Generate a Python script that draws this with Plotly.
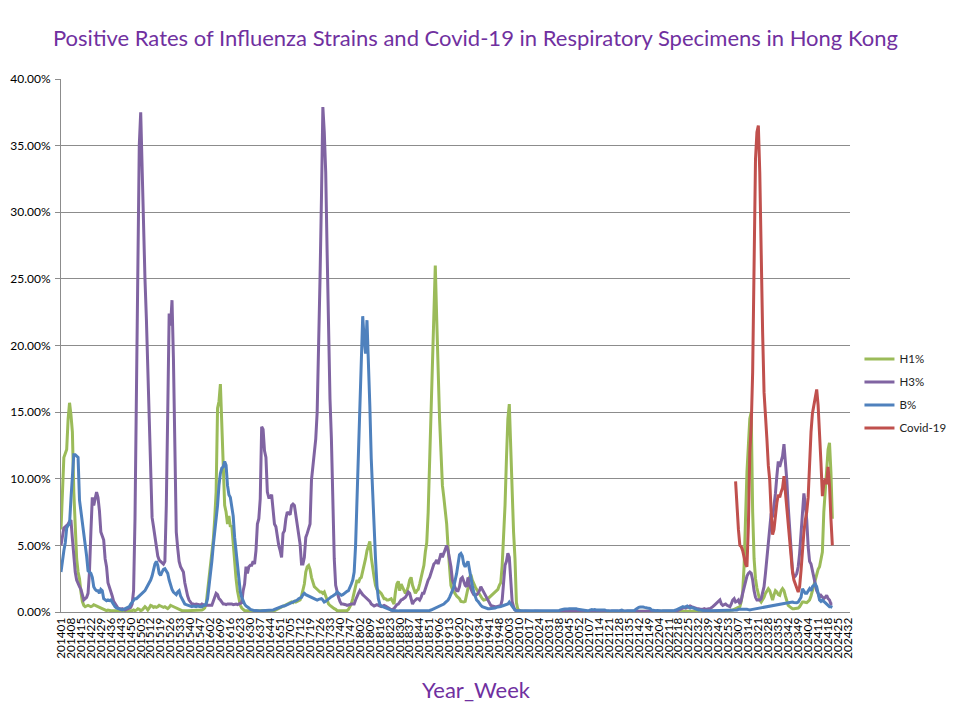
import plotly.graph_objects as go

# ---------------- categories (Year_Week) ----------------
weeks_per_year = {2014: 52, 2015: 52, 2016: 53, 2017: 52, 2018: 52, 2019: 52,
                  2020: 52, 2021: 52, 2022: 53, 2023: 52, 2024: 32}
categories = [f"{y}{w:02d}" for y, n in weeks_per_year.items() for w in range(1, n + 1)]
tick_labels = categories[::7]
tick_mark_every = 13

# ---------------- series values (percent) ----------------
h1 = {
    2014: [6.2, 9.5, 11.6, 11.9, 12.2, 14.5, 15.7, 14.8, 13.5, 9.0,
           6.0, 4.0, 3.0, 2.5, 1.5, 0.8, 0.5, 0.4, 0.45, 0.5,
           0.45, 0.4, 0.45, 0.55, 0.5, 0.45, 0.35, 0.3, 0.25, 0.2,
           0.15, 0.1, 0.1, 0.15, 0.1, 0.1, 0.1, 0.12, 0.1, 0.1,
           0.1, 0.08, 0.1, 0.1, 0.12, 0.1, 0.1, 0.08, 0.1, 0.1,
           0.1, 0.15],
    2015: [0.1, 0.15, 0.25, 0.2, 0.1, 0.15, 0.3, 0.4, 0.3, 0.15,
           0.3, 0.5, 0.45, 0.35, 0.4, 0.35, 0.4, 0.5, 0.45, 0.4,
           0.35, 0.4, 0.3, 0.25, 0.35, 0.5, 0.45, 0.4, 0.35, 0.3,
           0.25, 0.2, 0.1, 0.1, 0.1, 0.12, 0.1, 0.1, 0.1, 0.1,
           0.1, 0.1, 0.12, 0.1, 0.1, 0.1, 0.1, 0.15, 0.2, 0.3,
           0.6, 1.5],
    2016: [2.3, 3.3, 4.5, 5.4, 7.0, 9.0, 15.3, 15.8, 17.1, 14.0,
           9.5, 8.0, 7.5, 6.6, 7.2, 6.4, 6.5, 5.1, 3.6, 2.5,
           1.6, 1.0, 0.5, 0.3, 0.2, 0.1, 0.1, 0.12, 0.1, 0.1,
           0.1, 0.08, 0.1, 0.1, 0.1, 0.12, 0.1, 0.1, 0.1, 0.1,
           0.1, 0.1, 0.12, 0.1, 0.1, 0.1, 0.1, 0.15, 0.2, 0.25,
           0.3, 0.4, 0.45],
    2017: [0.45, 0.5, 0.55, 0.6, 0.7, 0.75, 0.7, 0.8, 0.75, 0.8,
           0.9, 0.9, 1.2, 1.6, 2.1, 3.0, 3.4, 3.5, 3.2, 2.6,
           2.3, 1.9, 1.8, 1.7, 1.6, 1.5, 1.5, 1.4, 1.5, 1.2,
           0.8, 0.6, 0.5, 0.4, 0.3, 0.25, 0.2, 0.1, 0.1, 0.1,
           0.1, 0.1, 0.1, 0.1, 0.1, 0.2, 0.4, 0.6, 1.0, 1.4,
           1.8, 2.4],
    2018: [2.2, 2.5, 2.6, 3.0, 3.6, 4.0, 4.6, 4.9, 5.3, 4.1,
           3.2, 2.6, 2.0, 1.7, 1.6, 1.5, 1.4, 1.2, 1.0, 1.0,
           0.9, 0.9, 0.95, 1.0, 0.8, 0.6, 1.5, 2.1, 2.3, 1.6,
           2.1, 1.9, 1.6, 1.4, 1.6, 1.9, 2.4, 2.6, 2.0, 1.6,
           1.4, 1.6, 1.7, 2.1, 2.6, 3.2, 3.5, 4.5, 5.2, 7.5,
           11.0, 15.0],
    2019: [19.0, 23.0, 26.0, 22.0, 17.5, 14.5, 12.0, 9.5, 8.6, 7.8,
           6.6, 4.8, 3.0, 2.0, 1.7, 1.5, 1.4, 1.2, 1.1, 1.0,
           0.8, 0.75, 0.75, 0.8, 1.2, 1.8, 2.6, 2.8, 2.4, 2.1,
           1.9, 1.7, 1.5, 1.3, 1.1, 1.0, 0.9, 0.9, 0.95, 1.0,
           1.1, 1.2, 1.3, 1.4, 1.5, 1.6, 1.7, 2.0, 2.2, 3.5,
           5.5, 8.0],
    2020: [11.5, 14.5, 15.6, 12.5, 8.5, 6.0, 4.0, 0.7, 0.2, 0.1,
           0.05, 0.05, 0.04, 0.05, 0.03, 0.04, 0.03, 0.03, 0.04, 0.03,
           0.03, 0.02, 0.03, 0.03, 0.02, 0.03, 0.02, 0.02, 0.03, 0.02,
           0.02, 0.03, 0.02, 0.02, 0.02, 0.03, 0.02, 0.02, 0.02, 0.02,
           0.03, 0.02, 0.02, 0.02, 0.02, 0.03, 0.02, 0.02, 0.02, 0.02,
           0.02, 0.02],
    2021: [0.02, 0.02, 0.03, 0.02, 0.02, 0.02, 0.02, 0.03, 0.02, 0.02,
           0.02, 0.02, 0.02, 0.03, 0.02, 0.02, 0.02, 0.02, 0.02, 0.03,
           0.02, 0.02, 0.02, 0.02, 0.02, 0.02, 0.03, 0.02, 0.02, 0.02,
           0.02, 0.02, 0.03, 0.02, 0.02, 0.02, 0.02, 0.02, 0.02, 0.03,
           0.02, 0.02, 0.02, 0.02, 0.03, 0.02, 0.02, 0.02, 0.02, 0.02,
           0.02, 0.02],
    2022: [0.02, 0.02, 0.02, 0.03, 0.02, 0.02, 0.02, 0.02, 0.03, 0.02,
           0.02, 0.02, 0.02, 0.02, 0.03, 0.02, 0.02, 0.02, 0.03, 0.02,
           0.02, 0.02, 0.03, 0.02, 0.02, 0.03, 0.03, 0.02, 0.03, 0.03,
           0.03, 0.04, 0.03, 0.03, 0.04, 0.04, 0.03, 0.04, 0.05, 0.04,
           0.05, 0.05, 0.06, 0.05, 0.06, 0.07, 0.06, 0.07, 0.08, 0.07,
           0.08, 0.09, 0.1],
    2023: [0.1, 0.1, 0.15, 0.2, 0.25, 0.3, 0.3, 0.4, 0.8, 1.5,
           3.5, 7.5, 10.5, 12.5, 14.5, 15.0, 7.5, 4.0, 2.5, 1.8,
           1.3, 0.9, 0.75, 0.9, 1.1, 1.4, 1.6, 1.75, 1.6, 1.3,
           0.9, 1.3, 1.6, 1.5, 1.3, 1.25, 1.6, 1.75, 1.6, 1.2,
           0.8, 0.5, 0.4, 0.3, 0.25, 0.25, 0.25, 0.25, 0.3, 0.4,
           0.6, 0.75],
    2024: [0.75, 0.7, 0.7, 0.8, 0.9, 1.2, 1.6, 2.1, 2.6, 2.9,
           3.2, 3.4, 3.9, 4.5, 7.5, 9.0, 10.5, 12.2, 12.7, 10.5,
           7.0],
}

h3 = {
    2014: [5.0, 5.8, 6.3, 6.4, 6.5, 6.6, 6.8, 6.9, 5.5, 4.0,
           3.0, 2.4, 2.1, 1.9, 1.7, 1.2, 0.9, 1.0, 1.1, 1.4,
           3.0, 6.0, 8.6, 8.0, 8.5, 9.0, 8.6, 7.6, 6.0, 5.6,
           5.4, 4.0, 3.4, 2.2, 1.9, 1.6, 1.2, 0.8, 0.6, 0.4,
           0.3, 0.25, 0.2, 0.25, 0.2, 0.15, 0.2, 0.25, 0.3, 0.35,
           0.6, 1.6],
    2015: [7.0, 17.0, 28.0, 35.0, 37.5, 33.0, 29.0, 25.0, 22.0, 18.0,
           13.0, 9.0, 7.1, 6.4, 5.6, 4.9, 4.2, 3.9, 3.8, 3.7,
           3.6, 3.8, 8.0, 15.0, 22.4, 21.5, 23.4, 19.0, 12.0, 6.0,
           4.8, 3.8, 3.4, 3.2, 3.0, 2.2, 1.6, 1.2, 0.9, 0.7,
           0.6, 0.6, 0.55, 0.6, 0.6, 0.55, 0.5, 0.6, 0.55, 0.5,
           0.5, 0.5],
    2016: [0.5, 0.5, 0.5, 0.8, 1.2, 1.4, 1.3, 1.0, 0.9, 0.7,
           0.6, 0.6, 0.55, 0.6, 0.6, 0.65, 0.6, 0.55, 0.6, 0.6,
           0.55, 0.6, 0.6, 0.7, 1.6, 2.1, 3.4, 2.9, 3.4, 3.5,
           3.5, 3.8, 3.6, 4.6, 6.6, 7.0, 8.5, 13.9, 13.7, 12.1,
           11.6, 9.0, 8.6, 8.6, 8.8, 7.9, 6.6, 6.4, 5.6, 5.0,
           4.6, 4.1, 5.9],
    2017: [6.1, 7.0, 7.5, 7.4, 7.3, 8.0, 8.1, 8.0, 7.3, 6.8,
           6.0, 5.1, 3.6, 3.6, 4.1, 5.6, 5.9, 6.2, 6.6, 9.9,
           11.1, 11.9, 13.0, 15.0, 19.0, 25.0, 31.0, 37.9, 36.0, 33.0,
           27.0, 21.0, 16.0, 13.0, 8.0, 4.0, 2.0, 1.4, 1.1, 0.8,
           0.6, 0.6, 0.6, 0.55, 0.5, 0.55, 0.6, 0.6, 0.6, 0.6,
           0.9, 1.2],
    2018: [1.4, 1.6, 1.4, 1.3, 1.2, 1.1, 1.0, 0.9, 0.8, 0.6,
           0.5, 0.45, 0.5, 0.55, 0.5, 0.45, 0.4, 0.45, 0.5, 0.45,
           0.4, 0.35, 0.25, 0.15, 0.2, 0.25, 0.4, 0.55, 0.6, 0.75,
           0.9, 0.95, 1.0, 1.1, 1.3, 1.5, 1.4, 0.9, 0.6, 0.8,
           0.9, 1.0, 1.0, 0.9, 1.1, 1.4, 1.4, 1.8, 2.2, 2.4,
           2.6, 2.9],
    2019: [3.3, 3.6, 3.7, 3.9, 3.6, 4.1, 4.4, 4.1, 4.4, 4.6,
           5.0, 4.6, 4.1, 3.4, 2.4, 2.0, 1.8, 1.6, 1.6, 1.9,
           2.5, 2.6, 2.3, 2.0, 1.9, 2.6, 2.0, 1.7, 1.5, 1.3,
           1.25, 1.3, 1.4, 1.6, 1.9, 1.7, 1.5, 1.3, 1.1, 0.9,
           0.7, 0.5, 0.45, 0.4, 0.4, 0.4, 0.4, 0.45, 0.5, 0.9,
           2.2, 3.5],
    2020: [3.8, 4.4, 4.1, 2.0, 0.8, 0.4, 0.15, 0.1, 0.08, 0.06,
           0.05, 0.05, 0.04, 0.05, 0.04, 0.04, 0.05, 0.04, 0.04, 0.04,
           0.05, 0.04, 0.04, 0.04, 0.05, 0.04, 0.04, 0.04, 0.04, 0.05,
           0.04, 0.04, 0.04, 0.04, 0.05, 0.04, 0.04, 0.04, 0.04, 0.04,
           0.05, 0.04, 0.04, 0.04, 0.04, 0.05, 0.04, 0.04, 0.04, 0.04,
           0.04, 0.04],
    2021: [0.04, 0.04, 0.03, 0.04, 0.03, 0.03, 0.04, 0.03, 0.03, 0.03,
           0.04, 0.03, 0.03, 0.03, 0.04, 0.03, 0.03, 0.03, 0.03, 0.04,
           0.03, 0.03, 0.03, 0.04, 0.03, 0.03, 0.03, 0.03, 0.04, 0.03,
           0.03, 0.03, 0.03, 0.04, 0.03, 0.03, 0.03, 0.03, 0.04, 0.03,
           0.03, 0.03, 0.04, 0.03, 0.03, 0.03, 0.03, 0.04, 0.03, 0.03,
           0.03, 0.03],
    2022: [0.03, 0.03, 0.04, 0.03, 0.03, 0.05, 0.04, 0.03, 0.03, 0.04,
           0.05, 0.04, 0.03, 0.05, 0.06, 0.08, 0.1, 0.15,
           0.2, 0.25, 0.3, 0.35, 0.3, 0.35, 0.4, 0.45, 0.4, 0.35,
           0.3, 0.3, 0.25, 0.25, 0.2,
           0.2, 0.2, 0.25, 0.2, 0.25, 0.25, 0.25, 0.3, 0.4, 0.5,
           0.6, 0.7, 0.8, 0.9, 0.6, 0.5, 0.55, 0.6, 0.5, 0.45],
    2023: [0.4, 0.6, 0.9, 1.0, 0.75, 0.8, 0.9, 0.6, 0.9, 1.4,
           1.9, 2.4, 2.7, 2.9, 3.0, 2.9, 2.4, 1.6, 1.1, 0.9,
           0.9, 0.9, 1.0, 1.4, 1.9, 2.9, 4.0, 5.5, 6.5, 7.4,
           7.1, 7.9, 8.9, 10.2, 11.3, 10.9, 11.4, 11.7, 12.6, 11.5,
           9.9, 7.9, 6.1, 4.4, 3.1, 2.6, 2.7, 2.9, 3.4, 4.4,
           5.9, 7.9],
    2024: [8.9, 8.1, 6.9, 4.9, 3.8, 3.6, 3.1, 2.4, 1.9, 1.6,
           1.4, 1.1, 1.25, 1.1, 1.0, 1.1, 1.25, 1.0, 0.9, 0.6,
           0.6],
}

b = {
    2014: [3.0, 4.0, 4.6, 5.2, 6.3, 6.5, 6.6, 8.5, 10.1, 11.8,
           11.8, 11.7, 11.6, 8.4, 7.6, 6.9, 6.1, 5.0, 4.2, 3.1,
           3.0, 2.9, 2.6, 1.9, 1.7, 1.6, 1.6, 1.4, 1.7, 1.6,
           1.0, 0.9, 0.85, 0.9, 0.85, 0.9, 0.7, 0.5, 0.4, 0.3,
           0.25, 0.25, 0.2, 0.15, 0.2, 0.25, 0.3, 0.35, 0.4, 0.6,
           0.75, 0.9],
    2015: [1.0, 1.0, 1.1, 1.2, 1.3, 1.4, 1.5, 1.6, 1.8, 2.0,
           2.1, 2.4, 2.7, 3.2, 3.6, 3.8, 3.5, 2.9, 2.75, 3.0,
           3.2, 3.25, 3.1, 2.9, 2.4, 2.0, 1.7, 1.5, 1.4, 1.3,
           1.5, 1.6, 1.2, 1.0, 0.8, 0.6, 0.55, 0.5, 0.45, 0.45,
           0.4, 0.45, 0.4, 0.4, 0.45, 0.4, 0.4, 0.4, 0.45, 0.5,
           0.6, 1.0],
    2016: [1.8, 2.6, 3.8, 5.0, 5.9, 7.0, 8.0, 9.5, 10.4, 10.8,
           10.9, 11.3, 11.0, 9.5, 8.8, 8.6, 8.0, 7.2, 5.6, 4.6,
           3.4, 2.3, 1.5, 1.1, 0.8, 0.6, 0.45, 0.4, 0.3, 0.2,
           0.15, 0.1, 0.1, 0.12, 0.1, 0.1, 0.08, 0.1, 0.1, 0.12,
           0.1, 0.1, 0.1, 0.12, 0.1, 0.15, 0.2, 0.25, 0.3, 0.35,
           0.4, 0.4, 0.45],
    2017: [0.45, 0.5, 0.55, 0.6, 0.65, 0.7, 0.7, 0.75, 0.8, 0.9,
           1.0, 1.05, 1.1, 1.3, 1.4, 1.3, 1.25, 1.2, 1.15, 1.1,
           1.05, 1.0, 0.95, 0.9, 0.95, 1.0, 1.0, 0.9, 0.75, 0.8,
           0.9, 1.0, 1.1, 1.15, 1.2, 1.25, 1.35, 1.5, 1.4, 1.3,
           1.25, 1.3, 1.4, 1.45, 1.55, 1.6, 1.8, 2.1, 2.4, 3.0,
           5.0, 8.5],
    2018: [12.0, 15.5, 19.5, 22.2, 20.5, 19.4, 21.9, 19.0, 15.5, 11.5,
           8.5, 6.0, 4.0, 2.0, 1.0, 0.6, 0.45, 0.4, 0.35, 0.3,
           0.25, 0.2, 0.15, 0.1, 0.1, 0.12, 0.1, 0.1, 0.08, 0.1,
           0.1, 0.12, 0.1, 0.1, 0.1, 0.08, 0.1, 0.1, 0.12, 0.1,
           0.1, 0.1, 0.1, 0.12, 0.1, 0.1, 0.1, 0.12, 0.1, 0.12,
           0.12, 0.15],
    2019: [0.2, 0.2, 0.25, 0.3, 0.4, 0.45, 0.5, 0.55, 0.6, 0.7,
           0.8, 0.9, 1.1, 1.3, 1.6, 1.9, 2.3, 2.9, 3.6, 4.3,
           4.4, 4.2, 3.6, 3.4, 3.6, 3.8, 3.2, 2.5, 2.0, 1.5,
           1.2, 0.9, 0.8, 0.6, 0.5, 0.4, 0.35, 0.3, 0.25, 0.25,
           0.25, 0.25, 0.3, 0.3, 0.3, 0.35, 0.35, 0.4, 0.4, 0.45,
           0.5, 0.55],
    2020: [0.6, 0.6, 0.75, 0.6, 0.4, 0.25, 0.15, 0.1, 0.1, 0.08,
           0.08, 0.1, 0.08, 0.1, 0.1, 0.08, 0.1, 0.12, 0.1, 0.08,
           0.08, 0.1, 0.1, 0.1, 0.08, 0.1, 0.12, 0.1, 0.1, 0.08,
           0.1, 0.08, 0.1, 0.1, 0.12, 0.1, 0.1, 0.12, 0.15, 0.2,
           0.2, 0.22, 0.2, 0.22, 0.25, 0.25, 0.28, 0.3, 0.3, 0.25,
           0.2, 0.18],
    2021: [0.15, 0.15, 0.12, 0.12, 0.12, 0.1, 0.12, 0.15, 0.18, 0.15,
           0.18, 0.15, 0.15, 0.18, 0.15, 0.18, 0.15, 0.15, 0.12, 0.1,
           0.1, 0.08, 0.1, 0.1, 0.1, 0.15, 0.1, 0.08, 0.1, 0.15,
           0.1, 0.08, 0.08, 0.1, 0.1, 0.1, 0.08, 0.1, 0.12, 0.2,
           0.3, 0.35, 0.38, 0.4, 0.38, 0.35, 0.3, 0.3, 0.28, 0.25,
           0.15, 0.12],
    2022: [0.1, 0.1, 0.12, 0.1, 0.1, 0.08, 0.1, 0.1, 0.1, 0.08,
           0.1, 0.1, 0.1, 0.1, 0.12, 0.15, 0.2, 0.25, 0.3, 0.35,
           0.4, 0.35, 0.4, 0.45, 0.35, 0.3, 0.35, 0.3, 0.25, 0.25,
           0.2, 0.15, 0.15, 0.12, 0.1, 0.1, 0.1, 0.08, 0.1, 0.1,
           0.1, 0.1, 0.12, 0.1, 0.1, 0.12, 0.1, 0.1, 0.1, 0.12,
           0.1, 0.1, 0.1],
    2023: [0.1, 0.1, 0.1, 0.1, 0.12, 0.15, 0.2, 0.2, 0.22, 0.25,
           0.25, 0.2, 0.2, 0.18, 0.15, 0.18, 0.2, 0.2, 0.25, 0.25,
           0.25, 0.28, 0.3, 0.3, 0.32, 0.35, 0.35, 0.4, 0.4, 0.42,
           0.45, 0.5, 0.5, 0.52, 0.55, 0.58, 0.6, 0.6, 0.62, 0.65,
           0.68, 0.7, 0.7, 0.72, 0.75, 0.72, 0.7, 0.7, 0.75, 0.9,
           1.1, 1.75],
    2024: [1.6, 1.4, 1.4, 1.6, 1.75, 1.6, 1.9, 2.0, 2.1, 1.9,
           1.4, 0.9, 0.8, 0.9, 0.8, 0.7, 0.6, 0.5, 0.4, 0.4,
           0.35],
}

covid_start = "202305"
covid = {
    2023: [9.8, 7.5, 6.2, 5.0, 4.9, 4.6, 4.0, 3.6, 3.4, 6.5,
           12.0, 14.0, 18.0, 26.0, 34.0, 36.0, 36.5, 33.0, 26.0, 21.0,
           16.5, 15.0, 13.0, 11.0, 9.9, 7.5, 5.8, 6.2, 7.5, 8.2,
           8.8, 8.6, 9.0, 9.3, 10.2, 9.0, 7.8, 6.5, 5.2, 4.0,
           3.0, 2.4, 2.0, 1.8, 1.5, 1.9, 3.1, 4.9],
    2024: [6.0, 6.9, 7.5, 8.6, 11.2, 13.5, 14.9, 15.5, 16.0, 16.7,
           15.5, 13.7, 11.2, 8.7, 9.6, 10.0, 9.6, 10.9, 9.5, 7.0,
           5.0],
}

# ---------------- checks ----------------
for name, d in (("h1", h1), ("h3", h3), ("b", b)):
    for y, vals in d.items():
        if y < 2024:
            assert len(vals) == weeks_per_year[y], (name, y, len(vals))
        else:
            assert len(vals) == 21, (name, y, len(vals))
assert len(covid[2023]) == 48 and len(covid[2024]) == 21, (len(covid[2023]), len(covid[2024]))


def flat(d):
    out = []
    for y in sorted(d):
        out.extend(v / 100 for v in d[y])
    return out


h1_vals, h3_vals, b_vals = flat(h1), flat(h3), flat(b)
c_vals = flat(covid)
c0 = categories.index(covid_start)

series = [
    ("H1%", categories[:len(h1_vals)], h1_vals, "#9BBB59"),
    ("H3%", categories[:len(h3_vals)], h3_vals, "#8064A2"),
    ("B%", categories[:len(b_vals)], b_vals, "#4F81BD"),
    ("Covid-19", categories[c0:c0 + len(c_vals)], c_vals, "#C0504D"),
]

FONT = "Lato, 'Open Sans', sans-serif"
PURPLE = "#7030A0"
GRID = "#8C8C8C"

fig = go.Figure()
for i, (name, xs, ys, col) in enumerate(series):
    fig.add_trace(go.Scatter(x=xs, y=ys, mode="lines", name=name,
                             legendgroup=f"g{i}",
                             line=dict(color=col, width=3),
                             hovertemplate="%{x}: %{y:.2%}<extra>" + name + "</extra>"))

# the page body adds an 8px offset, so the figure is 952x712 and margins are reduced by 8
x_range = [0, 554.4]
fig.update_layout(
    template="none",
    width=952, height=712,
    paper_bgcolor="white", plot_bgcolor="white",
    margin=dict(l=53, r=110, t=71, b=108, autoexpand=False),
    title=dict(text="Positive Rates of Influenza Strains and Covid-19 in Respiratory Specimens in Hong Kong",
               x=0.491, xanchor="center", y=0.958, yanchor="middle",
               font=dict(family=FONT, size=22, color=PURPLE)),
    xaxis=dict(type="category", categoryorder="array", categoryarray=categories,
               range=x_range, tickmode="array", tickvals=tick_labels, ticktext=tick_labels,
               tickangle=-90, ticks="", showgrid=False, zeroline=False, automargin=False,
               showline=True, linecolor=GRID, linewidth=1,
               tickfont=dict(family=FONT, size=11.8, color="#000000")),
    xaxis2=dict(overlaying="x", anchor="y", side="bottom", range=x_range, automargin=False,
                tickmode="array", tickvals=list(range(0, len(categories), tick_mark_every)),
                ticks="outside", ticklen=5, tickcolor=GRID, tickwidth=1,
                showticklabels=False, showgrid=False, zeroline=False, showline=False),
    yaxis=dict(range=[0, 0.4], dtick=0.05, tickformat=".2%", automargin=False,
               showgrid=True, gridcolor=GRID, gridwidth=1, zeroline=False,
               showline=True, linecolor=GRID, linewidth=1,
               ticks="outside", ticklen=5, tickcolor=GRID, ticklabelstandoff=2,
               tickfont=dict(family=FONT, size=12, color="#000000")),
    legend=dict(x=1.012, xanchor="left", y=0.41, yanchor="middle",
                font=dict(family=FONT, size=11.5, color="#222222"),
                tracegroupgap=4, bgcolor="rgba(0,0,0,0)"),
    annotations=[dict(text="Year_Week", xref="paper", yref="paper",
                      x=0.526, y=-0.146, xanchor="center", yanchor="middle",
                      showarrow=False, font=dict(family=FONT, size=22, color=PURPLE))],
    showlegend=True,
)

fig.write_html("out.html")
